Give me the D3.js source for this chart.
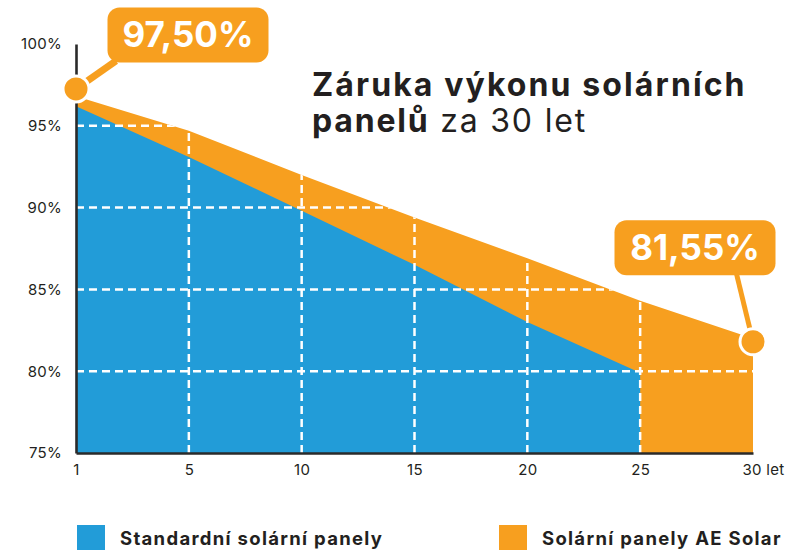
<!DOCTYPE html>
<html>
<head>
<meta charset="utf-8">
<script src="https://cdn.jsdelivr.net/npm/d3@7"></script>
<style>
  html, body { margin: 0; padding: 0; background: #fff; }
  svg { display: block; font-family: Inter, "Open Sans", sans-serif; }
</style>
</head>
<body>
<svg id="chart" width="795" height="550"></svg>
<script>
// ---- data ----
const years = ["1", "5", "10", "15", "20", "25", "30"];
const xLabels = ["1", "5", "10", "15", "20", "25", "30 let"];
const aeSolar = [96.8, 94.7, 92.0, 89.4, 86.9, 84.3, 82.0];      // Solární panely AE Solar
const standard = [96.2, 93.1, 89.8, 86.5, 83.0, 79.9];           // Standardní solární panely (years 1–25)
const yTicks = [75, 80, 85, 90, 95, 100];
const gridYValues = [80, 85, 90, 95];
const gridXYears = ["5", "10", "15", "20", "25"];
const calloutLabels = ["97,50%", "81,55%"];
const calloutYears = ["1", "30"];
const calloutValues = [97.25, 81.8];
const legendLabels = ["Standardní solární panely", "Solární panely AE Solar"];

const BLUE = "#229cd8", ORANGE = "#f79f1f", DARK = "#231f20";

const svg = d3.select("#chart");
const x = d3.scalePoint().domain(years).range([76, 753]);
const y = d3.scaleLinear().domain([75, 100]).range([453, 44]);

const areaGen = d3.area()
  .x((d, i) => x(years[i]))
  .y0(y(75))
  .y1(d => y(d));

// orange area
svg.append("path").datum(aeSolar).attr("d", areaGen).attr("fill", ORANGE);
// blue area
svg.append("path").datum(standard).attr("d", areaGen).attr("fill", BLUE);

// clip for grid
svg.append("clipPath").attr("id", "areaClip")
  .append("path").datum(aeSolar).attr("d", areaGen);

const grid = svg.append("g").attr("clip-path", "url(#areaClip)")
  .attr("stroke", "#fff").attr("stroke-width", 2.5).attr("stroke-dasharray", "8,5");
grid.selectAll("line.h").data(gridYValues).join("line")
  .attr("x1", x(years[0])).attr("x2", x(years[years.length - 1]))
  .attr("y1", d => y(d)).attr("y2", d => y(d));
grid.selectAll("line.v").data(gridXYears).join("line")
  .attr("x1", d => x(d)).attr("x2", d => x(d))
  .attr("y1", y(75)).attr("y2", y(100));

// axes
const yAxis = svg.append("g").attr("transform", `translate(${x(years[0])},0)`)
  .call(d3.axisLeft(y).tickValues(yTicks).tickFormat(d => d + "%").tickSize(0).tickPadding(14));
const xAxis = svg.append("g").attr("transform", `translate(0,${y(75)})`)
  .call(d3.axisBottom(x).tickFormat((d, i) => xLabels[i]).tickSize(0).tickPadding(11));
[yAxis, xAxis].forEach(a => {
  a.select(".domain").attr("stroke", "#2a2a2a").attr("stroke-width", 2.6);
  a.selectAll("text").attr("fill", DARK).style("font-size", "15px")
    .style("font-family", "Inter, sans-serif").style("letter-spacing", "0.3px");
});
xAxis.selectAll(".tick").filter((d, i) => i === years.length - 1).select("text")
  .attr("text-anchor", "start").attr("dx", -11);

// title
const title = svg.append("text").attr("x", 312).attr("y", 96)
  .attr("fill", DARK).style("font-size", "32px").style("font-weight", 700)
  .style("letter-spacing", "2.1px");
title.append("tspan").text("Záruka výkonu solárních");
const t2 = svg.append("text").attr("x", 312).attr("y", 132)
  .attr("fill", DARK).style("font-size", "32px").style("letter-spacing", "1.8px");
t2.append("tspan").style("font-weight", 700).text("panelů");
t2.append("tspan").style("font-weight", 400).text(" za 30 let");

// callouts
const boxOffsets = [{dx: 112, dy: -54}, {dx: -58, dy: -94}];
const lineEnds = [{dx: 40, dy: -28}, {dx: -17, dy: -70}];
const lineWidths = [7, 5];
calloutLabels.forEach((lab, i) => {
  const cx = x(calloutYears[i]), cy = y(calloutValues[i]);
  const bx = cx + boxOffsets[i].dx, by = cy + boxOffsets[i].dy;
  const w = 161, h = 55;
  svg.append("line")
    .attr("x1", cx).attr("y1", cy)
    .attr("x2", cx + lineEnds[i].dx).attr("y2", cy + lineEnds[i].dy)
    .attr("stroke", ORANGE).attr("stroke-width", lineWidths[i]);
  svg.append("rect").attr("x", bx - w / 2).attr("y", by - h / 2)
    .attr("width", w).attr("height", h).attr("rx", 12).attr("fill", ORANGE);
  svg.append("text").attr("x", bx).attr("y", by + 12)
    .attr("text-anchor", "middle").attr("fill", "#fff")
    .style("font-size", "35px").style("font-weight", 700).text(lab);
  svg.append("circle").attr("cx", cx).attr("cy", cy).attr("r", 13)
    .attr("fill", ORANGE).attr("stroke", "#fff").attr("stroke-width", 3);
});

// legend
const legendX = [77, 499];
const legendColors = [BLUE, ORANGE];
legendLabels.forEach((lab, i) => {
  svg.append("rect").attr("x", legendX[i]).attr("y", 525).attr("width", 28).attr("height", 30)
    .attr("fill", legendColors[i]);
  svg.append("text").attr("x", legendX[i] + 43).attr("y", 545)
    .attr("fill", DARK).style("font-size", "18.5px").style("font-weight", 700)
    .style("letter-spacing", "1.3px").text(lab);
});
</script>
</body>
</html>
